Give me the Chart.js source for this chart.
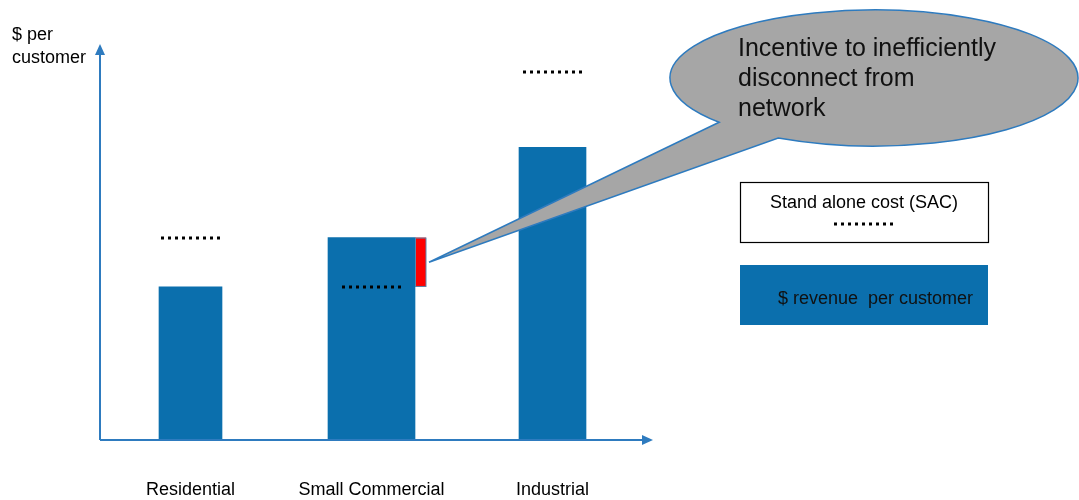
<!DOCTYPE html>
<html>
<head>
<meta charset="utf-8">
<script src="https://cdn.jsdelivr.net/npm/chart.js@4.4.0/dist/chart.umd.min.js"></script>
<style>
  html, body { margin: 0; padding: 0; background: #fff; }
  #wrap { width: 1079px; height: 500px; position: relative; }
</style>
</head>
<body>
<div id="wrap"><canvas id="tariffChart"></canvas></div>
<script>
const categories = ["Residential", "Small Commercial", "Industrial"];
const revenuePerCustomer = [31, 41, 59.3];
const standAloneCost = [41, 31, 74.5];
const yMax = 80;

const BLUE = "#0b6fad";
const AXIS_BLUE = "#2e7bbf";
const FONT = "'Liberation Sans', Arial, sans-serif";
const barWidths = [63, 87, 67];

// one dataset per customer class so each bar keeps its own width
const datasets = categories.map((name, i) => ({
  label: name,
  data: revenuePerCustomer.map((v, j) => (j === i ? v : null)),
  backgroundColor: BLUE,
  barThickness: barWidths[i],
  grouped: false,
}));

const dotted = (ctx, x0, x1, y) => {
  ctx.save();
  ctx.strokeStyle = "#000";
  ctx.lineWidth = 3;
  ctx.setLineDash([3, 4]);
  ctx.beginPath();
  ctx.moveTo(x0, y);
  ctx.lineTo(x1, y);
  ctx.stroke();
  ctx.restore();
};

const overlay = {
  id: "overlay",
  afterDatasetsDraw(chart) {
    const { ctx, chartArea: area } = chart;
    const y = chart.scales.y;
    const bars = categories.map((_, i) => chart.getDatasetMeta(i).data[i]);
    ctx.save();

    // stand alone cost markers
    bars.forEach((bar, i) => {
      const yy = Math.round(y.getPixelForValue(standAloneCost[i]));
      dotted(ctx, bar.x - 29.5, bar.x + 29.5, yy);
    });

    // revenue above SAC
    let tip = null;
    bars.forEach((bar, i) => {
      if (revenuePerCustomer[i] <= standAloneCost[i]) return;
      const x0 = bar.x + bar.width / 2;
      const top = y.getPixelForValue(revenuePerCustomer[i]);
      const bot = y.getPixelForValue(standAloneCost[i]);
      ctx.fillStyle = "#ff0000";
      ctx.fillRect(x0, top, 11, bot - top);
      ctx.strokeStyle = "#5a86ad";
      ctx.lineWidth = 1;
      ctx.strokeRect(x0 + 0.5, top + 0.5, 10.5, bot - top - 1);
      tip = { x: x0 + 14, y: (top + bot) / 2 };
    });

    // axes with arrow heads
    const ox = area.left, oy = area.bottom;
    ctx.strokeStyle = AXIS_BLUE;
    ctx.fillStyle = AXIS_BLUE;
    ctx.lineWidth = 2;
    ctx.beginPath();
    ctx.moveTo(ox, oy);
    ctx.lineTo(ox, area.top + 8);
    ctx.moveTo(ox, oy);
    ctx.lineTo(area.right + 1, oy);
    ctx.stroke();
    ctx.beginPath();
    ctx.moveTo(ox, area.top - 1);
    ctx.lineTo(ox - 5, area.top + 10);
    ctx.lineTo(ox + 5, area.top + 10);
    ctx.closePath();
    ctx.fill();
    ctx.beginPath();
    ctx.moveTo(area.right + 10, oy);
    ctx.lineTo(area.right - 1, oy - 5);
    ctx.lineTo(area.right - 1, oy + 5);
    ctx.closePath();
    ctx.fill();

    // speech bubble
    if (tip) {
      const cx = 874, cy = 78, rx = 204, ry = 68;
      const a1 = 139.4 * Math.PI / 180, a2 = 118 * Math.PI / 180;
      ctx.beginPath();
      ctx.moveTo(cx + rx * Math.cos(a1), cy + ry * Math.sin(a1));
      ctx.lineTo(tip.x, tip.y);
      ctx.lineTo(cx + rx * Math.cos(a2), cy + ry * Math.sin(a2));
      ctx.ellipse(cx, cy, rx, ry, 0, a2, a1 - 2 * Math.PI, true);
      ctx.closePath();
      ctx.fillStyle = "#a6a6a6";
      ctx.fill();
      ctx.strokeStyle = AXIS_BLUE;
      ctx.lineWidth = 1.5;
      ctx.stroke();
    }
    ctx.fillStyle = "#111";
    ctx.font = "25px " + FONT;
    ctx.textAlign = "left";
    ctx.textBaseline = "alphabetic";
    ["Incentive to inefficiently", "disconnect from", "network"].forEach((t, k) => {
      ctx.fillText(t, 738, 56 + k * 30);
    });

    // legend boxes
    ctx.strokeStyle = "#000";
    ctx.lineWidth = 1.2;
    ctx.strokeRect(740.5, 182.5, 248, 60);
    ctx.fillStyle = "#000";
    ctx.font = "18px " + FONT;
    ctx.textAlign = "center";
    ctx.fillText("Stand alone cost (SAC)", 864, 208);
    dotted(ctx, 834, 893, 224);

    ctx.fillStyle = BLUE;
    ctx.fillRect(740, 265, 248, 60);
    ctx.fillStyle = "#111";
    ctx.textAlign = "left";
    ctx.fillText("$ revenue  per customer", 778, 304);

    // value axis caption
    ctx.fillStyle = "#000";
    ctx.fillText("$ per", 12, 40);
    ctx.fillText("customer", 12, 63);

    ctx.restore();
  },
};

new Chart(document.getElementById("tariffChart"), {
  type: "bar",
  data: { labels: categories, datasets },
  options: {
    responsive: true,
    maintainAspectRatio: false,
    animation: false,
    layout: { padding: { left: 100, right: 436, top: 45, bottom: 0 } },
    plugins: {
      legend: { display: false },
      tooltip: { enabled: false },
    },
    scales: {
      x: {
        grid: { display: false },
        border: { display: false },
        afterFit(scale) { scale.height = 60; },
        ticks: {
          color: "#000",
          padding: 31,
          maxRotation: 0,
          minRotation: 0,
          font: { family: FONT, size: 18 },
        },
      },
      y: { display: false, min: 0, max: yMax },
    },
  },
  plugins: [overlay],
});
</script>
</body>
</html>
